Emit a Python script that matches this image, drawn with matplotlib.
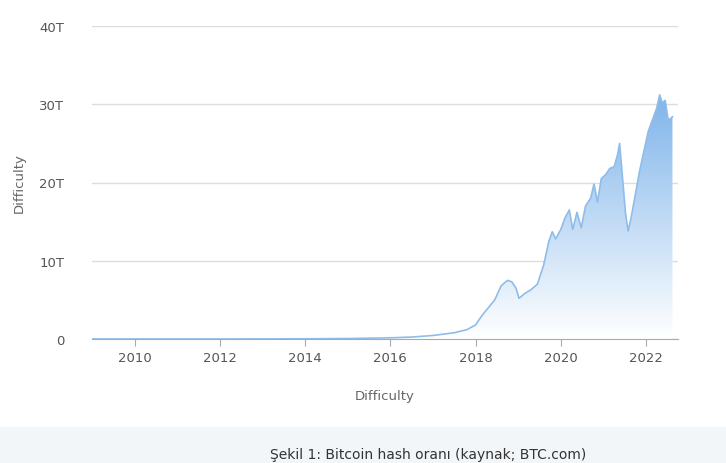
import numpy as np
import matplotlib.pyplot as plt
from matplotlib.patches import Polygon

# difficulty in trillions
years = [2009.0, 2010.0, 2011.0, 2012.0, 2013.0, 2014.0, 2015.0, 2016.0, 2016.5, 2017.0,
         2017.5, 2017.8, 2018.0, 2018.15, 2018.3, 2018.45, 2018.6, 2018.75, 2018.85, 2018.95,
         2019.02, 2019.15, 2019.3, 2019.45, 2019.6, 2019.72, 2019.8, 2019.88, 2020.0, 2020.1,
         2020.2, 2020.28, 2020.38, 2020.48, 2020.58, 2020.7, 2020.78, 2020.86, 2020.95, 2021.05,
         2021.15, 2021.25, 2021.33, 2021.38, 2021.45, 2021.52, 2021.58, 2021.65, 2021.75, 2021.85,
         2021.95, 2022.05, 2022.15, 2022.25, 2022.32, 2022.38, 2022.45, 2022.52, 2022.58, 2022.62]
difficulty = [0.0, 0.0, 0.0, 0.0, 0.01, 0.03, 0.06, 0.15, 0.25, 0.45,
              0.8, 1.2, 1.8, 3.0, 4.0, 5.0, 6.8, 7.5, 7.3, 6.5,
              5.2, 5.8, 6.3, 7.0, 9.5, 12.5, 13.7, 12.8, 14.0, 15.5,
              16.5, 14.0, 16.2, 14.2, 17.0, 18.0, 19.8, 17.5, 20.5, 21.0,
              21.8, 22.0, 23.5, 25.0, 20.5, 16.0, 13.8, 15.5, 18.5, 21.5,
              24.0, 26.5, 28.0, 29.5, 31.2, 30.2, 30.5, 28.0, 28.2, 28.4]
yticks = [0, 10, 20, 30, 40]
ytick_labels = ['0', '10T', '20T', '30T', '40T']
xticks = [2010, 2012, 2014, 2016, 2018, 2020, 2022]

fig = plt.figure(figsize=(7.26, 4.64), dpi=100)
fig.patches.append(plt.Rectangle((0, 0), 1, 36 / 464, transform=fig.transFigure,
                                 color='#f3f6f9', zorder=0))
ax = fig.add_axes([92 / 726, 1 - 340 / 464, 586 / 726, 313 / 464])

x = np.array(years)
y = np.array(difficulty)
ax.plot(x, y, color='#8fbde9', lw=1.2, zorder=3)

# vertical gradient fill under the curve
grad = np.linspace(0, 1, 256).reshape(-1, 1)
img = ax.imshow(grad, extent=[2009, 2022.62, 0, 31.2], origin='lower', aspect='auto',
                cmap=plt.matplotlib.colors.LinearSegmentedColormap.from_list(
                    'g', ['#ffffff', '#7fb4ea']), zorder=2)
poly = Polygon(np.column_stack([np.r_[x, x[-1], x[0]], np.r_[y, 0, 0]]),
               closed=True, transform=ax.transData, fc='none', ec='none')
ax.add_patch(poly)
img.set_clip_path(poly)

ax.set_xlim(2009, 2022.75)
ax.set_ylim(0, 40)
ax.set_yticks(yticks)
ax.set_yticklabels(ytick_labels)
ax.set_xticks(xticks)
ax.grid(axis='y', color='#dddddd', lw=1)
ax.set_axisbelow(True)
for s in ['top', 'right', 'left']:
    ax.spines[s].set_visible(False)
ax.spines['bottom'].set_color('#aaaaaa')
ax.tick_params(axis='y', length=0, labelsize=9.5, colors='#555555', pad=20)
ax.tick_params(axis='x', length=5, color='#aaaaaa', labelsize=9.5, colors='#555555')
ax.set_ylabel('Difficulty', color='#666666', fontsize=9.5, labelpad=10)
ax.set_xlabel('Difficulty', color='#666666', fontsize=9.5, labelpad=18)

fig.text(428 / 726, 9 / 464, 'Şekil 1: Bitcoin hash oranı (kaynak; BTC.com)',
         ha='center', va='center', fontsize=10, color='#333333')
fig.savefig('out.png', dpi=100)
